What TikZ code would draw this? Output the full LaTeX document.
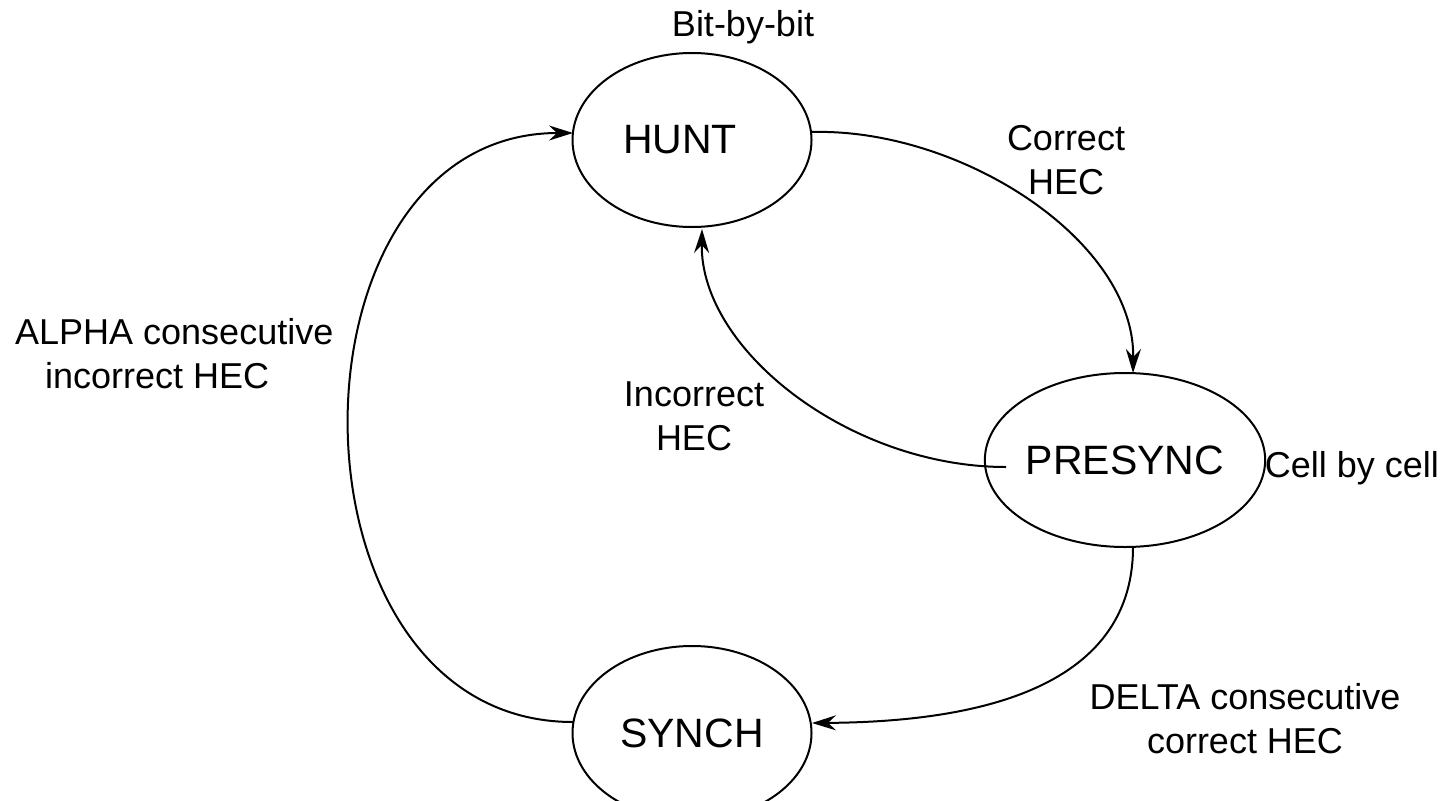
\documentclass[tikz,border=0pt]{standalone}
\usepackage{fontspec}
\setmainfont{Liberation Sans}
\usetikzlibrary{shapes.geometric,arrows.meta}
\begin{document}
\begin{tikzpicture}[x=1pt,y=-1pt,
  state/.style={draw, line width=2pt, ellipse, minimum width=239pt, minimum height=174pt, inner sep=0pt, font=\fontsize{41}{49}\selectfont},
  lbl/.style={font=\fontsize{36}{44}\selectfont, align=center, inner sep=0pt},
  conn/.style={line width=2pt, -{Stealth[length=24pt,width=15pt,inset=8pt]}}]
\useasboundingbox (0,0) rectangle (1447,800);
\fill[white] (0,0) rectangle (1447,800);
\node[state] (hunt) at (692,140) {\hspace*{-24pt}HUNT};
\node[state] (pre) at (1125,460) {PRESYNC};
\node[state] (syn) at (692,733) {SYNCH};
\node[lbl, anchor=base] (lb1) at (743,37) {Bit-by-bit};
\node[lbl, anchor=base] (lb2) at (1066,194) {Correct\\HEC};
\node[lbl, align=left, anchor=base west] (lb3) at (15,388) {ALPHA consecutive\\\hspace*{30pt}incorrect HEC};
\node[lbl, anchor=base] (lb4) at (694,450) {Incorrect\\HEC};
\node[lbl, anchor=base] (lb5) at (1352,477) {Cell by cell};
\node[lbl, anchor=base] (lb6) at (1245,753) {DELTA consecutive\\correct HEC};
\coordinate (hE) at (812,132);
\coordinate (hW) at (573,133);
\coordinate (hS) at (702,229);
\coordinate (pN) at (1133,373);
\coordinate (pW) at (1006,467);
\coordinate (pS) at (1133,547);
\coordinate (sE) at (812,723);
\coordinate (sW) at (573,722);
\draw[conn] (hE) .. controls (960,128) and (1135,240) .. (pN);
\draw[conn] (pW) .. controls (850,467) and (700,350) .. (hS);
\draw[conn] (pS) .. controls (1133,700) and (950,722) .. (sE);
\draw[conn] (sW) .. controls (275,722) and (275,133) .. (hW);
\end{tikzpicture}
\end{document}
